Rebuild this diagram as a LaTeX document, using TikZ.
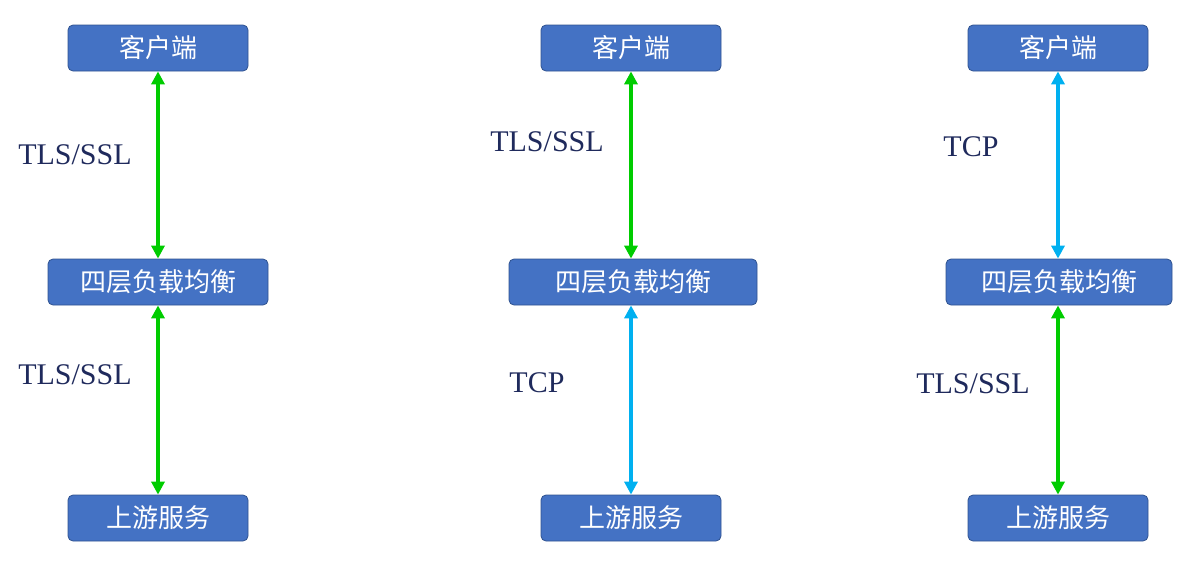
\documentclass[tikz,border=0pt]{standalone}
\usepackage{fontspec}
\setmainfont{Liberation Serif}
\newfontfamily\cjk{Noto Sans CJK SC}
\usetikzlibrary{arrows.meta}
\definecolor{boxfill}{HTML}{4472C4}
\definecolor{boxline}{HTML}{2F528F}
\definecolor{grn}{HTML}{00CC00}
\definecolor{blu}{HTML}{00B0F0}
\definecolor{lbl}{HTML}{1F2A5C}
\begin{document}
\begin{tikzpicture}[x=1pt,y=-1pt,
  box/.style={draw=boxline, fill=boxfill, rounded corners=5pt, text=white,
    font=\cjk\fontsize{26}{26}\selectfont, inner sep=0pt, line width=0.8pt,
    minimum height=46pt},
  small/.style={box, minimum width=180pt},
  lab/.style={text=lbl, font=\fontsize{30}{30}\selectfont, inner sep=0pt},
  conn/.style={line width=4pt, {Triangle[length=13pt,width=13pt]}-{Triangle[length=13pt,width=13pt]}},
  tls/.style={conn, draw=grn},
  tcp/.style={conn, draw=blu}]
\useasboundingbox (0,0) rectangle (1187,565);
% column 1
\node[small] (c1) at (158,48) {客户端};
\node[box, minimum width=220pt] (m1) at (158,282) {四层负载均衡};
\node[small] (u1) at (158,518) {上游服务};
% column 2
\node[small] (c2) at (631,48) {客户端};
\node[box, minimum width=248pt] (m2) at (633,282) {四层负载均衡};
\node[small] (u2) at (631,518) {上游服务};
% column 3
\node[small] (c3) at (1058,48) {客户端};
\node[box, minimum width=226pt] (m3) at (1059,282) {四层负载均衡};
\node[small] (u3) at (1058,518) {上游服务};
% connectors
\draw[tls] (c1.south) -- (c1.south |- m1.north);
\draw[tls] (c1.south |- m1.south) -- (u1.north);
\draw[tls] (c2.south) -- (c2.south |- m2.north);
\draw[tcp] (c2.south |- m2.south) -- (u2.north);
\draw[tcp] (c3.south) -- (c3.south |- m3.north);
\draw[tls] (c3.south |- m3.south) -- (u3.north);
% labels
\node[lab] (l1) at (75,155) {TLS/SSL};
\node[lab] (l2) at (75,375) {TLS/SSL};
\node[lab] (l3) at (547,142) {TLS/SSL};
\node[lab] (l4) at (537,383) {TCP};
\node[lab] (l5) at (971,147) {TCP};
\node[lab] (l6) at (973,384) {TLS/SSL};
\end{tikzpicture}
\end{document}
